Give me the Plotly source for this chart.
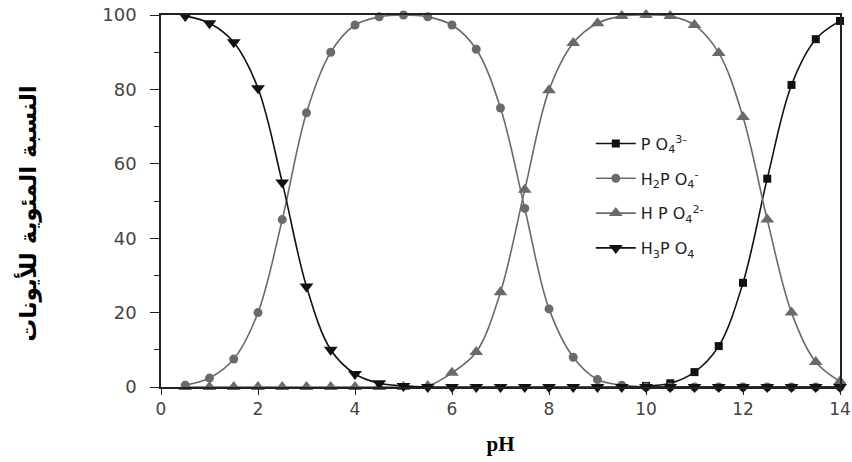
import plotly.graph_objects as go

ph = [0.5, 1.0, 1.5, 2.0, 2.5, 3.0, 3.5, 4.0, 4.5, 5.0, 5.5, 6.0, 6.5, 7.0,
      7.5, 8.0, 8.5, 9.0, 9.5, 10.0, 10.5, 11.0, 11.5, 12.0, 12.5, 13.0, 13.5, 14.0]

h3po4 = [99.7, 97.8, 92.7, 80.3, 55, 27, 10, 3.5, 1, 0.3, 0, 0, 0, 0,
         0, 0, 0, 0, 0, 0, 0, 0, 0, 0, 0, 0, 0, 0]
h2po4 = [0.5, 2.4, 7.5, 20, 45, 73.7, 90, 97.3, 99.5, 100, 99.5, 97.3, 90.8, 75,
         48, 21, 8, 2, 0.5, 0, 0, 0, 0, 0, 0, 0, 0, 0]
hpo4 = [0, 0, 0, 0, 0, 0, 0, 0, 0, 0, 0.3, 3.8, 9.4, 25.5,
        53, 79.8, 92.5, 97.8, 99.7, 100, 99.7, 97.3, 89.8, 72.6, 45, 20, 6.7, 1.5]
# PO4 markers are hidden under the others where its share is 0
po4 = [None, None, None, None, None, None, None, None, None, None, None, None, None, None,
       None, None, None, None, None, 0.3, 1, 4, 11, 28, 56, 81.2, 93.5, 98.4]

names = ["P O<sub>4</sub><sup>3-</sup>",
         "H<sub>2</sub>P O<sub>4</sub><sup>-</sup>",
         "H P O<sub>4</sub><sup>2-</sup>",
         "H<sub>3</sub>P O<sub>4</sub>"]

x_ticks = [0, 2, 4, 6, 8, 10, 12, 14]
y_ticks = [0, 20, 40, 60, 80, 100]
y_title = "<b>النسبة المئوية للأيونات</b>"
x_title = "<b>pH</b>"

black = "#111111"
grey = "#6a6a6a"


def trace(y, name, color, symbol, size, rank):
    return go.Scatter(x=ph, y=y, name=name, mode="lines+markers",
                      legendgroup=name, legendrank=rank,
                      line=dict(color=color, width=1.6, shape="spline"),
                      marker=dict(symbol=symbol, size=size, color=color),
                      cliponaxis=False)


fig = go.Figure()
# drawing order (bottom to top) differs from legend order (legendrank)
fig.add_trace(trace(po4, names[0], black, "square", 8, 1))
fig.add_trace(trace(h2po4, names[1], grey, "circle", 9, 2))
fig.add_trace(trace(hpo4, names[2], grey, "triangle-up", 12, 3))
fig.add_trace(trace(h3po4, names[3], black, "triangle-down", 12, 4))

fig.add_annotation(text=y_title, textangle=-90, xref="paper", yref="paper",
                   x=-0.196, y=0.468, xanchor="center", yanchor="middle",
                   showarrow=False,
                   font=dict(family="DejaVu Sans", size=23, color="#000"))

fig.update_layout(
    width=852, height=462,
    margin=dict(l=161, r=12, t=15, b=75, autoexpand=False),
    paper_bgcolor="white", plot_bgcolor="white",
    font=dict(family="DejaVu Sans", color="#333"),
    legend=dict(x=0.633, y=0.70, xanchor="left", yanchor="top",
                bgcolor="rgba(0,0,0,0)", font=dict(size=16, color="#222"),
                tracegroupgap=11, itemwidth=40),
    xaxis=dict(range=[0, 14], tickvals=x_ticks, ticktext=[str(v) for v in x_ticks],
               showgrid=False, zeroline=False, showline=True, linecolor="#222",
               linewidth=1.5, mirror=True, ticks="outside", ticklen=6,
               tickcolor="#222", tickfont=dict(size=17, color="#444"),
               automargin=False,
               title=dict(text=x_title, font=dict(family="Liberation Serif", size=21, color="#000"),
                          standoff=18)),
    yaxis=dict(range=[0, 100], tickvals=y_ticks, ticktext=[str(v) for v in y_ticks],
               showgrid=False, zeroline=False, showline=True, linecolor="#222",
               linewidth=1.5, mirror=True, ticks="outside", ticklen=9,
               tickcolor="#222", tickfont=dict(size=18, color="#444"),
               ticklabelstandoff=10, automargin=False,
               minor=dict(dtick=10, ticks="outside", ticklen=5, tickcolor="#222")),
)

fig.write_html("out.html")
